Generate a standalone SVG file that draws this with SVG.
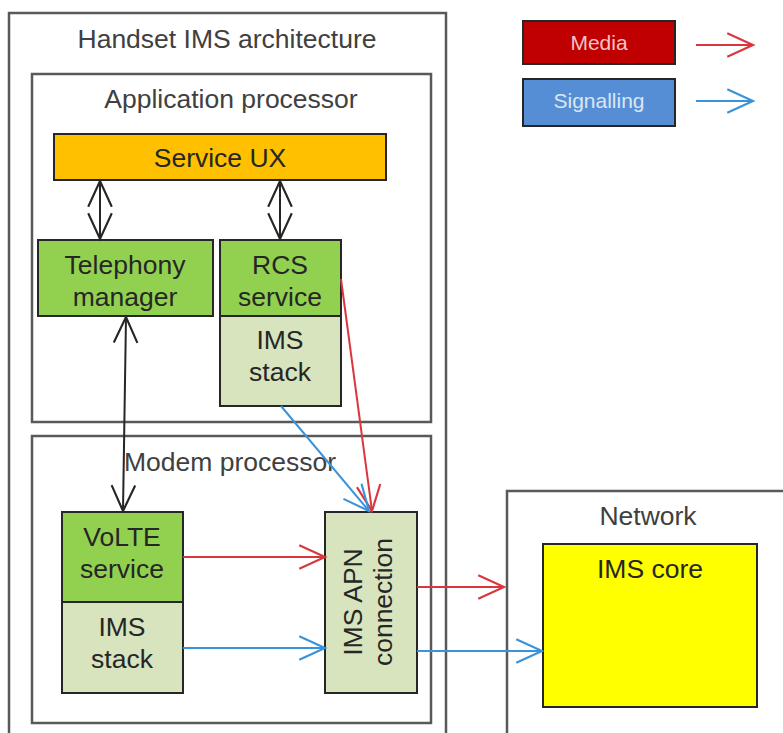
<svg xmlns="http://www.w3.org/2000/svg" width="783" height="733" viewBox="0 0 783 733">
<defs>
<style>
.frame{fill:#fff;stroke:#595959;stroke-width:2.5}
.node{stroke:#262626;stroke-width:2}
.t{font-family:"Liberation Sans",Arial,sans-serif;font-size:26.5px;fill:#262626;text-anchor:middle}
.tt{font-family:"Liberation Sans",Arial,sans-serif;font-size:26.5px;fill:#404040;text-anchor:middle}
.lg{font-family:"Liberation Sans",Arial,sans-serif;font-size:21px;text-anchor:middle}
.blk{stroke:#262626;stroke-width:2;fill:none}
.red{stroke:#D9363E;stroke-width:2;fill:none}
.blue{stroke:#3A93D8;stroke-width:2;fill:none}
</style>
<marker id="ak" markerUnits="userSpaceOnUse" markerWidth="30" markerHeight="30" viewBox="-1 -1 28 26" refX="24" refY="11" orient="auto-start-reverse"><path d="M0,0 L24,11 L0,22" fill="none" stroke="#262626" stroke-width="2"/></marker>
<marker id="ar" markerUnits="userSpaceOnUse" markerWidth="30" markerHeight="30" viewBox="-1 -1 28 26" refX="24" refY="11" orient="auto"><path d="M0,0 L24,11 L0,22" fill="none" stroke="#D9363E" stroke-width="2"/></marker>
<marker id="ab" markerUnits="userSpaceOnUse" markerWidth="30" markerHeight="30" viewBox="-1 -1 28 26" refX="24" refY="11" orient="auto"><path d="M0,0 L24,11 L0,22" fill="none" stroke="#3A93D8" stroke-width="2"/></marker>
</defs>
<rect width="783" height="733" fill="#fff"/>
<g id="handset"><rect class="frame" x="9" y="13" width="437" height="740"/><text class="tt" x="227" y="48">Handset IMS architecture</text></g>
<g id="network"><rect class="frame" x="507" y="491" width="300" height="260"/><text class="tt" x="648" y="525">Network</text></g>
<g id="app-proc"><rect class="frame" x="32" y="74" width="399" height="348"/><text class="tt" x="231" y="108">Application processor</text></g>
<g id="modem-proc"><rect class="frame" x="32" y="436" width="399" height="287"/><text class="tt" x="230" y="471">Modem processor</text></g>
<g id="service-ux"><rect class="node" x="54" y="134" width="332" height="46" fill="#FFC000"/><text class="t" x="220" y="167">Service UX</text></g>
<g id="telephony"><rect class="node" x="38" y="240" width="175" height="76" fill="#92D050"/><text class="t" x="125" y="274">Telephony</text><text class="t" x="125" y="306">manager</text></g>
<g id="rcs"><rect class="node" x="220" y="240" width="121" height="76" fill="#92D050"/><text class="t" x="280" y="274">RCS</text><text class="t" x="280" y="306">service</text></g>
<g id="ims-stack-app"><rect class="node" x="220" y="316" width="121" height="90" fill="#D7E4BD"/><text class="t" x="280" y="349">IMS</text><text class="t" x="280" y="381">stack</text></g>
<g id="volte"><rect class="node" x="62" y="512" width="121" height="90" fill="#92D050"/><text class="t" x="122" y="546">VoLTE</text><text class="t" x="122" y="578">service</text></g>
<g id="ims-stack-modem"><rect class="node" x="62" y="602" width="121" height="91" fill="#D7E4BD"/><text class="t" x="122" y="636">IMS</text><text class="t" x="122" y="668">stack</text></g>
<g id="ims-apn"><rect class="node" x="325" y="512" width="92" height="181" fill="#D7E4BD"/><g transform="translate(371,602) rotate(-90)"><text class="t" x="0" y="-9">IMS APN</text><text class="t" x="0" y="21">connection</text></g></g>
<g id="ims-core"><rect class="node" x="543" y="544" width="214" height="163" fill="#FFFF00"/><text class="t" x="650" y="578">IMS core</text></g>
<g id="legend-media"><rect class="node" x="523" y="21" width="152" height="43" fill="#C00000"/><text class="lg" x="599" y="50" fill="#F2C4C4">Media</text></g>
<g id="legend-signalling"><rect class="node" x="523" y="79" width="152" height="47" fill="#558ED5"/><text class="lg" x="599" y="108" fill="#DCE6F2">Signalling</text></g>
<g id="connectors">
<line class="blk" x1="100" y1="181" x2="100" y2="239" marker-start="url(#ak)" marker-end="url(#ak)"/>
<line class="blk" x1="280" y1="181" x2="280" y2="239" marker-start="url(#ak)" marker-end="url(#ak)"/>
<line class="blk" x1="126" y1="317" x2="123" y2="511" marker-start="url(#ak)" marker-end="url(#ak)"/>
<line class="red" x1="341" y1="279" x2="372" y2="511" marker-end="url(#ar)"/>
<line class="blue" x1="281" y1="406" x2="369" y2="511" marker-end="url(#ab)"/>
<line class="red" x1="183" y1="557" x2="325" y2="557" marker-end="url(#ar)"/>
<line class="blue" x1="183" y1="648" x2="325" y2="648" marker-end="url(#ab)"/>
<line class="red" x1="417" y1="587" x2="504" y2="587" marker-end="url(#ar)"/>
<line class="blue" x1="417" y1="651" x2="542" y2="651" marker-end="url(#ab)"/>
<line class="red" x1="696" y1="45" x2="753" y2="45" marker-end="url(#ar)"/>
<line class="blue" x1="696" y1="101" x2="753" y2="101" marker-end="url(#ab)"/>
</g>
</svg>
